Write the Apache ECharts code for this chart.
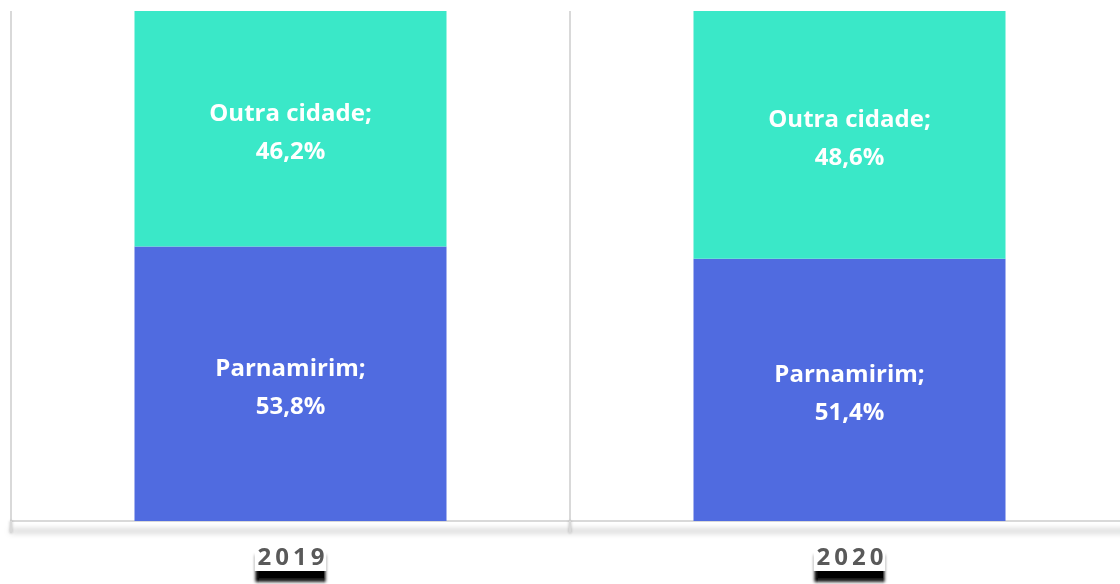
<!DOCTYPE html>
<html>
<head>
<meta charset="utf-8">
<script src="https://cdn.jsdelivr.net/npm/echarts@6/dist/echarts.min.js"></script>
<style>
  html, body { margin: 0; padding: 0; background: #fff; }
  #chart { width: 1120px; height: 584px; }
</style>
</head>
<body>
<div id="chart"></div>
<script>
// dados
var anos = ['2019', '2020'];
var parnamirim = [53.8, 51.4];
var outraCidade = [46.2, 48.6];

var chart = echarts.init(document.getElementById('chart'));

function rotulo(nome) {
  return {
    show: true,
    position: 'inside',
    offset: [0, 4],
    color: '#fff',
    fontFamily: 'Open Sans',
    fontWeight: 'bold',
    fontSize: 24,
    lineHeight: 38,
    formatter: function (p) {
      return nome + ';\n' + p.value.toFixed(1).replace('.', ',') + '%';
    }
  };
}

var option = {
  animation: false,
  grid: { left: 11, width: 1118, top: 11, bottom: 63, outerBoundsMode: 'none', containLabel: false },
  xAxis: {
    type: 'category',
    data: anos,
    axisLine: {
      lineStyle: {
        color: '#d9d9d9', width: 2,
        shadowColor: 'rgba(0,0,0,0.4)', shadowBlur: 6, shadowOffsetY: 10
      }
    },
    axisTick: {
      show: true, length: 12,
      lineStyle: { color: '#d9d9d9', width: 2, shadowColor: 'rgba(0,0,0,0.3)', shadowBlur: 3 }
    },
    splitLine: { show: true, lineStyle: { color: '#d9d9d9', width: 2 } },
    axisLabel: {
      margin: 23,
      color: '#595959',
      fontFamily: 'Open Sans',
      fontWeight: 'bold',
      fontSize: 24,
      backgroundColor: '#fff',
      padding: [2, 2, 1, 3],
      shadowColor: '#000',
      shadowBlur: 3,
      shadowOffsetY: 11,
      formatter: function (v) { return v.split('').join('\u2009'); }
    }
  },
  yAxis: { type: 'value', min: 0, max: 100, show: false, splitLine: { show: false } },
  series: [
    {
      name: 'Parnamirim', type: 'bar', stack: 't', data: parnamirim,
      barWidth: 312, itemStyle: { color: '#506BE0' }, label: rotulo('Parnamirim')
    },
    {
      name: 'Outra cidade', type: 'bar', stack: 't', data: outraCidade,
      barWidth: 312, itemStyle: { color: '#3AE8C8' }, label: rotulo('Outra cidade')
    }
  ]
};

chart.setOption(option);
</script>
</body>
</html>
